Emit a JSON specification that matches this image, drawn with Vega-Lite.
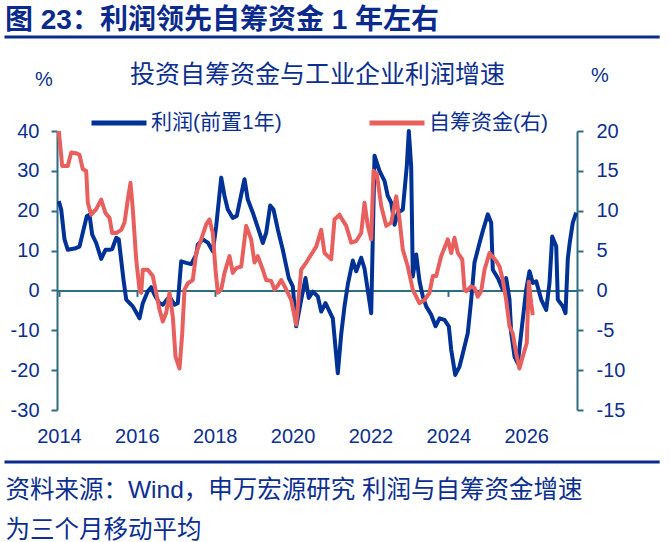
{
  "$schema": "https://vega.github.io/schema/vega-lite/v6.json",
  "width": 520,
  "height": 279,
  "autosize": {"type": "none"},
  "padding": {"left": 57, "top": 131, "right": 93, "bottom": 132},
  "background": "white",
  "config": {
    "view": {"stroke": null},
    "font": "Liberation Sans, Noto Sans CJK SC",
    "axis": {"labelFont": "Liberation Sans, Noto Sans CJK SC", "titleFont": "Liberation Sans, Noto Sans CJK SC", "grid": false},
    "legend": {"labelFont": "Liberation Sans, Noto Sans CJK SC"}
  },
  "title": {
    "text": "图 23：利润领先自筹资金 1 年左右",
    "anchor": "start",
    "frame": "group",
    "dx": -52,
    "offset": 1,
    "fontSize": 28,
    "fontWeight": "bold",
    "color": "#0A2B8C",
    "font": "Liberation Sans, Noto Sans CJK SC"
  },
  "datasets": {
    "profit": [
      {"t": 2013.995, "v": 22.4}, {"t": 2014.057, "v": 20.3}, {"t": 2014.142, "v": 12.8}, {"t": 2014.226, "v": 10.2},
      {"t": 2014.399, "v": 10.5}, {"t": 2014.527, "v": 11}, {"t": 2014.612, "v": 14.5}, {"t": 2014.714, "v": 18.6},
      {"t": 2014.784, "v": 19}, {"t": 2014.853, "v": 14}, {"t": 2014.956, "v": 11.9}, {"t": 2015.084, "v": 7.9},
      {"t": 2015.195, "v": 10.2}, {"t": 2015.298, "v": 10.2}, {"t": 2015.367, "v": 10.4}, {"t": 2015.47, "v": 13.2},
      {"t": 2015.536, "v": 12.8}, {"t": 2015.657, "v": 2.7}, {"t": 2015.727, "v": -2.3}, {"t": 2015.896, "v": -4},
      {"t": 2016.068, "v": -7}, {"t": 2016.153, "v": -3.2}, {"t": 2016.281, "v": -0.2}, {"t": 2016.369, "v": 0.8},
      {"t": 2016.453, "v": -1.1}, {"t": 2016.582, "v": -3.2}, {"t": 2016.667, "v": -3.6}, {"t": 2016.839, "v": -1.5},
      {"t": 2016.967, "v": -3.6}, {"t": 2017.052, "v": -3.2}, {"t": 2017.139, "v": 7.3}, {"t": 2017.268, "v": 6.9},
      {"t": 2017.396, "v": 6.6}, {"t": 2017.525, "v": 9}, {"t": 2017.566, "v": 11.5}, {"t": 2017.694, "v": 12.8},
      {"t": 2017.823, "v": 12.0}, {"t": 2017.951, "v": 9.8}, {"t": 2018.038, "v": 16.1}, {"t": 2018.167, "v": 28.3},
      {"t": 2018.252, "v": 23.7}, {"t": 2018.336, "v": 20.3}, {"t": 2018.465, "v": 18.2}, {"t": 2018.568, "v": 18.7},
      {"t": 2018.637, "v": 22}, {"t": 2018.765, "v": 27.9}, {"t": 2018.85, "v": 22.8}, {"t": 2018.979, "v": 19.5},
      {"t": 2019.151, "v": 14.5}, {"t": 2019.235, "v": 11.9}, {"t": 2019.323, "v": 14.5}, {"t": 2019.425, "v": 21.3},
      {"t": 2019.51, "v": 20.3}, {"t": 2019.621, "v": 15.3}, {"t": 2019.749, "v": 10.2}, {"t": 2019.903, "v": 3.1},
      {"t": 2020.006, "v": 1}, {"t": 2020.093, "v": -9}, {"t": 2020.222, "v": -2.3}, {"t": 2020.332, "v": 3.1},
      {"t": 2020.417, "v": -1.9}, {"t": 2020.52, "v": -0.3}, {"t": 2020.648, "v": -1.5}, {"t": 2020.736, "v": -5.3},
      {"t": 2020.846, "v": -3.2}, {"t": 2021.034, "v": -7}, {"t": 2021.162, "v": -20.8}, {"t": 2021.249, "v": -11},
      {"t": 2021.334, "v": -4}, {"t": 2021.419, "v": 1.5}, {"t": 2021.547, "v": 7.5}, {"t": 2021.635, "v": 4.8},
      {"t": 2021.763, "v": 8.2}, {"t": 2021.848, "v": 5.5}, {"t": 2021.933, "v": 0}, {"t": 2022.02, "v": -5.7},
      {"t": 2022.105, "v": 33.8}, {"t": 2022.233, "v": 30}, {"t": 2022.362, "v": 27.5}, {"t": 2022.446, "v": 23.7},
      {"t": 2022.534, "v": 22}, {"t": 2022.619, "v": 16.5}, {"t": 2022.703, "v": 19.5}, {"t": 2022.832, "v": 20.3},
      {"t": 2022.934, "v": 31.2}, {"t": 2022.986, "v": 40}, {"t": 2023.047, "v": 31}, {"t": 2023.088, "v": 3.5},
      {"t": 2023.176, "v": 9}, {"t": 2023.261, "v": 2.3}, {"t": 2023.345, "v": -1.5}, {"t": 2023.433, "v": -4},
      {"t": 2023.561, "v": -6.1}, {"t": 2023.672, "v": -9}, {"t": 2023.774, "v": -7}, {"t": 2023.903, "v": -7.4},
      {"t": 2024.013, "v": -9}, {"t": 2024.075, "v": -14.9}, {"t": 2024.178, "v": -21.2}, {"t": 2024.288, "v": -19.1},
      {"t": 2024.373, "v": -15.8}, {"t": 2024.501, "v": -10.7}, {"t": 2024.589, "v": -2.3}, {"t": 2024.673, "v": 7},
      {"t": 2024.802, "v": 11.9}, {"t": 2024.886, "v": 14.9}, {"t": 2025.015, "v": 19.1}, {"t": 2025.102, "v": 17},
      {"t": 2025.143, "v": 5.2}, {"t": 2025.272, "v": 3.1}, {"t": 2025.4, "v": 0.2}, {"t": 2025.487, "v": 3.1},
      {"t": 2025.572, "v": -2.3}, {"t": 2025.616, "v": -10.7}, {"t": 2025.701, "v": -16.6}, {"t": 2025.786, "v": -18.3},
      {"t": 2025.873, "v": -10.7}, {"t": 2026.001, "v": 0.2}, {"t": 2026.086, "v": 4.8}, {"t": 2026.171, "v": 1.9},
      {"t": 2026.258, "v": 2.3}, {"t": 2026.387, "v": -2.3}, {"t": 2026.515, "v": -4.9}, {"t": 2026.6, "v": 1.9},
      {"t": 2026.669, "v": 13.5}, {"t": 2026.772, "v": 11.1}, {"t": 2026.813, "v": -2.3}, {"t": 2026.942, "v": -4},
      {"t": 2027.011, "v": -5.7}, {"t": 2027.07, "v": 8}, {"t": 2027.12, "v": 12}, {"t": 2027.198, "v": 17},
      {"t": 2027.285, "v": 19.5}
    ],
    "funds": [
      {"t": 2013.995, "v": 20}, {"t": 2014.083, "v": 15.6}, {"t": 2014.226, "v": 15.6}, {"t": 2014.314, "v": 17.3},
      {"t": 2014.442, "v": 17.2}, {"t": 2014.527, "v": 17}, {"t": 2014.612, "v": 15.2}, {"t": 2014.699, "v": 15},
      {"t": 2014.74, "v": 11}, {"t": 2014.827, "v": 9.5}, {"t": 2014.956, "v": 10.2}, {"t": 2015.084, "v": 11.4},
      {"t": 2015.195, "v": 9.7}, {"t": 2015.298, "v": 9.1}, {"t": 2015.367, "v": 7.2}, {"t": 2015.47, "v": 7.2},
      {"t": 2015.598, "v": 7.6}, {"t": 2015.683, "v": 8.5}, {"t": 2015.768, "v": 11.4}, {"t": 2015.837, "v": 13.5},
      {"t": 2015.896, "v": 10.2}, {"t": 2015.983, "v": 3.9}, {"t": 2016.068, "v": 0.1}, {"t": 2016.112, "v": -0.3},
      {"t": 2016.153, "v": 2.6}, {"t": 2016.281, "v": 2.6}, {"t": 2016.41, "v": 1.8}, {"t": 2016.497, "v": -0.3},
      {"t": 2016.582, "v": -2.4}, {"t": 2016.667, "v": -3.9}, {"t": 2016.754, "v": -2.8}, {"t": 2016.839, "v": -0.3},
      {"t": 2016.924, "v": -3.3}, {"t": 2016.993, "v": -8.3}, {"t": 2017.096, "v": -9.8}, {"t": 2017.165, "v": -5.4},
      {"t": 2017.224, "v": 0.1}, {"t": 2017.309, "v": 0.9}, {"t": 2017.437, "v": 1.3}, {"t": 2017.525, "v": 4.7},
      {"t": 2017.653, "v": 6.4}, {"t": 2017.782, "v": 8.3}, {"t": 2017.866, "v": 8.9}, {"t": 2017.951, "v": 7.2},
      {"t": 2018.02, "v": 2.6}, {"t": 2018.08, "v": -0.3}, {"t": 2018.167, "v": 0.1}, {"t": 2018.252, "v": 2.2},
      {"t": 2018.38, "v": 4.3}, {"t": 2018.465, "v": 2.2}, {"t": 2018.552, "v": 2.8}, {"t": 2018.681, "v": 3},
      {"t": 2018.809, "v": 8.1}, {"t": 2018.937, "v": 6.4}, {"t": 2019.022, "v": 3.5}, {"t": 2019.107, "v": 4.3},
      {"t": 2019.235, "v": 2.6}, {"t": 2019.323, "v": 1.3}, {"t": 2019.451, "v": 1.2}, {"t": 2019.536, "v": 0.1},
      {"t": 2019.621, "v": 0.6}, {"t": 2019.708, "v": 1.3}, {"t": 2019.819, "v": 0.3}, {"t": 2019.965, "v": -1.2},
      {"t": 2020.093, "v": -4.3}, {"t": 2020.222, "v": 2.6}, {"t": 2020.35, "v": 3.5}, {"t": 2020.479, "v": 4.5},
      {"t": 2020.607, "v": 5.5}, {"t": 2020.736, "v": 7.6}, {"t": 2020.821, "v": 4.7}, {"t": 2020.993, "v": 3.9},
      {"t": 2021.077, "v": 8.9}, {"t": 2021.206, "v": 9.5}, {"t": 2021.249, "v": 9.1}, {"t": 2021.378, "v": 8.1},
      {"t": 2021.506, "v": 6}, {"t": 2021.635, "v": 6.2}, {"t": 2021.763, "v": 7.2}, {"t": 2021.848, "v": 11},
      {"t": 2021.933, "v": 8.1}, {"t": 2022.02, "v": 6.4}, {"t": 2022.079, "v": 15}, {"t": 2022.164, "v": 14.6},
      {"t": 2022.277, "v": 10.6}, {"t": 2022.405, "v": 8.1}, {"t": 2022.534, "v": 8.5}, {"t": 2022.662, "v": 11.8},
      {"t": 2022.747, "v": 8.9}, {"t": 2022.832, "v": 5.1}, {"t": 2022.96, "v": 3}, {"t": 2023.088, "v": 0.1},
      {"t": 2023.217, "v": -1.2}, {"t": 2023.261, "v": -1.6}, {"t": 2023.389, "v": -1.2}, {"t": 2023.517, "v": -0.3},
      {"t": 2023.602, "v": 1.8}, {"t": 2023.689, "v": 1.8}, {"t": 2023.817, "v": 4.3}, {"t": 2023.987, "v": 6.4},
      {"t": 2024.075, "v": 4.7}, {"t": 2024.159, "v": 6.6}, {"t": 2024.245, "v": 4.7}, {"t": 2024.358, "v": 3.9},
      {"t": 2024.417, "v": 0.1}, {"t": 2024.461, "v": -0.1}, {"t": 2024.589, "v": 0.5}, {"t": 2024.673, "v": 0.3},
      {"t": 2024.758, "v": -0.8}, {"t": 2024.845, "v": -0.1}, {"t": 2024.93, "v": 2.6}, {"t": 2025.059, "v": 4.7},
      {"t": 2025.231, "v": 3.7}, {"t": 2025.316, "v": 3}, {"t": 2025.4, "v": 1.3}, {"t": 2025.487, "v": -1.2},
      {"t": 2025.572, "v": -4.5}, {"t": 2025.657, "v": -5.4}, {"t": 2025.743, "v": -7.9}, {"t": 2025.828, "v": -9.8},
      {"t": 2025.913, "v": -8.3}, {"t": 2026.016, "v": -6.6}, {"t": 2026.068, "v": 1.1}, {"t": 2026.129, "v": -1.6},
      {"t": 2026.171, "v": -3.1}
    ]
  },
  "layer": [
    {
      "data": {"name": "profit"},
      "mark": {"type": "line", "strokeWidth": 4, "strokeJoin": "round"},
      "encoding": {
        "x": {
          "field": "t", "type": "quantitative",
          "scale": {"domain": [2013.949, 2027.306], "nice": false, "zero": false},
          "axis": {
            "orient": "bottom", "offset": -119.6,
            "values": [2014, 2016, 2018, 2020, 2022, 2024, 2026], "format": "d",
            "domainColor": "#2E6D80", "domainWidth": 2,
            "tickColor": "#2E6D80", "tickWidth": 2, "tickSize": 6,
            "labelFontSize": 20, "labelColor": "#0B2F91", "labelPadding": 130,
            "labelFlush": false, "labelOverlap": false,
            "title": ["资料来源：Wind，申万宏源研究 利润与自筹资金增速", "为三个月移动平均"],
            "titleFontSize": 24.5, "titleFontWeight": "normal", "titleColor": "#0B2F91",
            "titleX": -52, "titleY": 187.6, "titleAlign": "left", "titleBaseline": "top",
            "titleLineHeight": 40, "titleAnchor": null
          }
        },
        "y": {
          "field": "v", "type": "quantitative",
          "scale": {"domain": [-30, 40], "nice": false, "zero": false},
          "axis": {
            "orient": "left", "values": [-30, -20, -10, 0, 10, 20, 30, 40],
            "labelExpr": "'' + datum.value", "labelOverlap": false,
            "domainColor": "#2E6D80", "domainWidth": 2,
            "tickColor": "#2E6D80", "tickWidth": 2, "tickSize": 6,
            "labelFontSize": 20, "labelColor": "#0B2F91", "labelPadding": 12,
            "labelFlush": false,
            "title": "%", "titleAngle": 0, "titleFontSize": 20, "titleFontWeight": "normal",
            "titleColor": "#0B2F91", "titleX": -13.5, "titleY": -52,
            "titleAlign": "center", "titleBaseline": "middle"
          }
        },
        "color": {
          "datum": "利润(前置1年)", "type": "nominal",
          "scale": {"domain": ["利润(前置1年)", "自筹资金(右)"], "range": ["#003296", "#E8605E"]},
          "legend": {
            "orient": "none", "legendX": 32, "legendY": -38, "direction": "horizontal",
            "title": null, "symbolType": "stroke", "symbolSize": 3025, "symbolStrokeWidth": 5,
            "labelFontSize": 21, "labelColor": "#0B2F91", "labelOffset": 2,
            "columnPadding": 77, "padding": 0, "labelLimit": 400
          }
        }
      }
    },
    {
      "data": {"name": "funds"},
      "mark": {"type": "line", "strokeWidth": 4, "strokeJoin": "round"},
      "encoding": {
        "x": {
          "field": "t", "type": "quantitative",
          "scale": {"domain": [2013.949, 2027.306], "nice": false, "zero": false},
          "axis": {
            "orient": "top", "domain": false, "ticks": false, "labels": false, "grid": false,
            "title": "投资自筹资金与工业企业利润增速",
            "titleFontSize": 25, "titleFontWeight": "normal", "titleColor": "#0B2F91",
            "titleX": 260, "titleY": -56.5, "titleAlign": "center", "titleBaseline": "middle",
            "titleAnchor": null
          }
        },
        "y": {
          "field": "v", "type": "quantitative",
          "scale": {"domain": [-15, 20], "nice": false, "zero": false},
          "axis": {
            "orient": "right", "values": [-15, -10, -5, 0, 5, 10, 15, 20],
            "labelExpr": "'' + datum.value", "labelOverlap": false,
            "domainColor": "#2E6D80", "domainWidth": 2,
            "tickColor": "#2E6D80", "tickWidth": 2, "tickSize": 6,
            "labelFontSize": 20, "labelColor": "#0B2F91", "labelPadding": 13,
            "labelFlush": false,
            "title": "%", "titleAngle": 0, "titleFontSize": 20, "titleFontWeight": "normal",
            "titleColor": "#0B2F91", "titleX": 22.5, "titleY": -55.5,
            "titleAlign": "center", "titleBaseline": "middle"
          }
        },
        "color": {"datum": "自筹资金(右)", "type": "nominal"}
      }
    },
    {
      "data": {"values": [{}]},
      "layer": [
        {
          "mark": {"type": "rule", "color": "#0A2B8C", "strokeWidth": 3},
          "encoding": {
            "x": {"datum": 2012.6, "type": "quantitative", "axis": null},
            "x2": {"datum": 2029.43},
            "y": {"datum": 63.57, "type": "quantitative", "axis": null,
                  "scale": {"domain": [-30, 40], "nice": false, "zero": false}}
          }
        },
        {
          "mark": {"type": "rule", "color": "#0A2B8C", "strokeWidth": 3},
          "encoding": {
            "x": {"datum": 2012.6, "type": "quantitative", "axis": null},
            "x2": {"datum": 2029.43},
            "y": {"datum": -43.05, "type": "quantitative", "axis": null}
          }
        }
      ]
    }
  ],
  "resolve": {"scale": {"y": "independent"}, "axis": {"x": "independent"}}
}
